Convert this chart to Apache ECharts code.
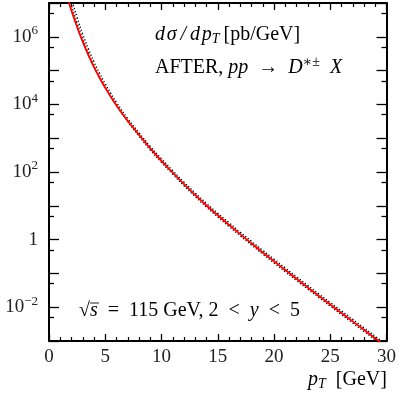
<!DOCTYPE html>
<html><head><meta charset="utf-8">
<script src="https://cdn.jsdelivr.net/npm/echarts@6/dist/echarts.min.js"></script>
<style>html,body{margin:0;padding:0;background:#fff}#c{width:399px;height:395px}</style>
</head><body><div id="c"></div>
<script>
// pT grid [GeV]
const pT = [1.5,2,2.5,3,3.5,4,4.5,5,5.5,6,7,8,9,10,11,12,13,14,15,16,17,18,19,20,21,22,23,24,25,26,27,28,29,29.5];
// central (red solid) dσ/dpT [pb/GeV]
const central = [1.9e7,5.9e6,1.95e6,7.08e5,2.88e5,1.26e5,6.03e4,3.09e4,1.66e4,9.33e3,3.24e3,1.26e3,501,214,95.5,43.7,20.9,10.2,5.25,2.75,1.45,0.776,0.417,0.229,0.126,0.0692,0.0385,0.0214,0.0120,6.76e-3,3.80e-3,2.14e-3,1.20e-3,8.9e-4];
// dotted curve A
const dottedA = [5.0e7,1.29e7,3.72e6,1.20e6,4.47e5,1.82e5,8.32e4,4.07e4,2.11e4,1.15e4,3.80e3,1.45e3,575,245,110,50.1,24.0,11.7,6.03,3.16,1.66,0.891,0.479,0.263,0.145,0.0794,0.0442,0.0245,0.0138,7.76e-3,4.37e-3,2.45e-3,1.38e-3,1.02e-3];
// dotted curve B
const dottedB = [3.0e7,8.3e6,2.51e6,8.5e5,3.31e5,1.38e5,6.46e4,3.24e4,1.70e4,9.33e3,3.09e3,1.15e3,447,191,85.1,38.9,18.6,9.12,4.68,2.45,1.29,0.692,0.372,0.204,0.112,0.0617,0.0343,0.0191,0.0107,6.03e-3,3.39e-3,1.91e-3,1.07e-3,7.9e-4];
// axis ticks
const yMajor = [1e-3,1e-2,1e-1,1,1e1,1e2,1e3,1e4,1e5,1e6,1e7];
const yMinor = [5e-3,5e-2,5e-1,5,5e1,5e2,5e3,5e4,5e5,5e6];
const yLabels = [1e-2,1,1e2,1e4,1e6];

const FONT = '"Liberation Serif","DejaVu Serif",serif';
const TXT = '#222';
const pairs = a => pT.map((x,i)=>[x,a[i]]);

function supLabel(v){
  const e = Math.round(Math.log10(v));
  if (e === 0) return '1';
  return '10{sup|' + (e<0 ? '\u2212' + (-e) : e) + '}';
}
const labelRich = {sup:{fontSize:13,fontFamily:FONT,color:TXT,padding:[0,0,12,0]}};

function xAx(pos, show){
  return {type:'value',position:pos,min:0,max:30,interval:5,
    axisLine:{show:true,onZero:false,lineStyle:{color:'#000',width:2}},
    axisTick:{show:true,inside:true,length:7,lineStyle:{color:'#000',width:1.3}},
    minorTick:{show:true,splitNumber:5,length:4,lineStyle:{color:'#000',width:1.2}},
    axisLabel:{show:show,margin:7,fontSize:19,fontFamily:FONT,color:TXT},
    splitLine:{show:false}};
}
function yAx(pos, major, labels){
  return {type:'log',logBase:10,position:pos,min:1e-3,max:1e7,
    axisLine:{show:major,onZero:false,lineStyle:{color:'#000',width:2}},
    axisTick:{show:true,inside:true,length:major?10:5,customValues:major?yMajor:yMinor,lineStyle:{color:'#000',width:1.3}},
    axisLabel:{show:labels,margin:11,customValues:yLabels,formatter:supLabel,fontSize:19,fontFamily:FONT,color:TXT,rich:labelRich},
    splitLine:{show:false},minorTick:{show:false}};
}

const chart = echarts.init(document.getElementById('c'),null,{renderer:'canvas'});
const R = 20;
const rich = {
  i:{fontFamily:FONT,fontStyle:'italic',fontSize:R,color:TXT},
  r:{fontFamily:FONT,fontSize:R,color:TXT},
  sub:{fontFamily:FONT,fontStyle:'italic',fontSize:14,color:TXT,padding:[9,0,0,0]},
  sup:{fontFamily:FONT,fontSize:14,color:TXT,padding:[0,0,11,0]}
};
chart.setOption({
  animation:false,
  grid:{left:49,right:11,top:3,bottom:54},
  xAxis:[xAx('bottom',true),xAx('top',false)],
  yAxis:[yAx('left',true,true),yAx('left',false,false),yAx('right',true,false),yAx('right',false,false)],
  series:[
    {type:'line',data:pairs(dottedA),smooth:true,showSymbol:false,lineStyle:{color:'#000',width:1.3,type:[1.3,2]},z:2},
    {type:'line',data:pairs(dottedB),smooth:true,showSymbol:false,lineStyle:{color:'#000',width:1.3,type:[1.3,2]},z:2},
    {type:'line',data:pairs(central),smooth:true,showSymbol:false,lineStyle:{color:'#ff0000',width:1.8},z:3}
  ],
  graphic:[
    {type:'text',left:155,top:25,style:{text:'{i|d\u200Aσ\u2009/\u2009d\u200Ap}{sub|T}{r|\u2009[pb/GeV]}',rich:rich}},
    {type:'text',left:155,top:55,style:{text:'{r|AFTER, }{i|pp}{r|  →  }{i|D}{sup|∗±}{i|  X}',rich:rich}},
    {type:'text',left:79,top:301,style:{text:'{r|√}{i|s}{r|\u2002=\u2002115 GeV, 2\u2002<\u2002}{i|y}{r|\u2002<\u20025}',rich:rich}},
    {type:'line',shape:{x1:90,y1:303,x2:99,y2:303},style:{stroke:TXT,lineWidth:1}},
    {type:'text',left:308,top:370,style:{text:'{i|p}{sub|T}{r|  [GeV]}',rich:rich}}
  ]
});
</script></body></html>
